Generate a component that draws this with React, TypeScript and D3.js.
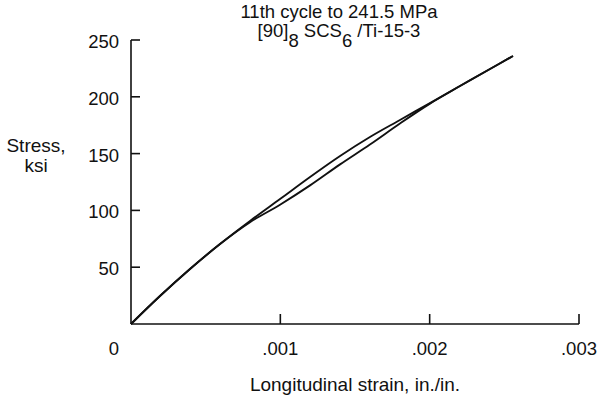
import React from "react";
import * as d3 from "d3";

const xTicks = [0.001, 0.002, 0.003];
const xTickLabels = [".001", ".002", ".003"];
const yTicks = [50, 100, 150, 200, 250];
const yTickLabels = ["50", "100", "150", "200", "250"];

// 11th cycle, two branches (strain in./in., stress ksi)
const strainA = [0, 0.000194, 0.000395, 0.000596, 0.000797, 0.000998, 0.001199, 0.0014, 0.0016, 0.001801, 0.002002, 0.002203, 0.002404, 0.002558];
const stressA = [0, 24.6, 48.4, 70.4, 90.7, 110.0, 129.4, 147.9, 164.6, 179.6, 194.5, 209.5, 224.5, 235.9];
const strainB = [0, 0.000194, 0.000395, 0.000596, 0.000797, 0.000998, 0.001199, 0.0014, 0.0016, 0.001801, 0.002002, 0.002203, 0.002404, 0.002558];
const stressB = [0, 24.6, 48.4, 70.4, 89.6, 105.0, 122.0, 140.5, 158.0, 176.5, 194.0, 209.5, 224.5, 235.9];

const W = 600;
const H = 402;
const FONT = "'Liberation Sans', Arial, Helvetica, sans-serif";

export default function App() {
  const x = d3.scaleLinear().domain([0, 0.003]).range([131, 579]);
  const y = d3.scaleLinear().domain([0, 250]).range([324, 40]);
  const line = d3
    .line<[number, number]>()
    .x((d) => x(d[0]))
    .y((d) => y(d[1]))
    .curve(d3.curveCatmullRom.alpha(0.5));
  const a = strainA.map((s, i) => [s, stressA[i]] as [number, number]);
  const b = strainB.map((s, i) => [s, stressB[i]] as [number, number]);

  return (
    <svg
      width={W}
      height={H}
      style={{ position: "absolute", left: 0, top: 0, background: "#fff" }}
      fontFamily={FONT}
    >
      <rect width={W} height={H} fill="#fff" />
      {/* title */}
      <text x={339} y={18} fontSize={18.5} textAnchor="middle" fill="#111">
        11th cycle to 241.5 MPa
      </text>
      <text x={339} y={37} fontSize={18.5} textAnchor="middle" fill="#111">
        <tspan>[90]</tspan>
        <tspan dy={10}>8</tspan>
        <tspan dy={-10}> SCS</tspan>
        <tspan dy={10}>6</tspan>
        <tspan dy={-10}> /Ti-15-3</tspan>
      </text>

      {/* axes */}
      <g stroke="#111" strokeWidth={1.6} fill="none">
        <line x1={x(0)} x2={x(0)} y1={y(250)} y2={y(0)} />
        <line x1={x(0)} x2={x(0.003)} y1={y(0)} y2={y(0)} />
        {yTicks.map((t) => (
          <line key={"yt" + t} x1={x(0)} x2={x(0) + 9} y1={y(t)} y2={y(t)} />
        ))}
        {xTicks.map((t) => (
          <line key={"xt" + t} x1={x(t)} x2={x(t)} y1={y(0)} y2={y(0) - 10} />
        ))}
      </g>

      {/* tick labels */}
      <g fontSize={18.5} fill="#111">
        {yTicks.map((t, i) => (
          <text key={"yl" + t} x={119} y={y(t) + 8} textAnchor="end">
            {yTickLabels[i]}
          </text>
        ))}
        <text x={119} y={355} textAnchor="end">0</text>
        {xTicks.map((t, i) => (
          <text key={"xl" + t} x={x(t)} y={355} textAnchor="middle">
            {xTickLabels[i]}
          </text>
        ))}
      </g>

      {/* axis titles */}
      <text x={36} y={152} fontSize={19} textAnchor="middle" fill="#111">
        Stress,
      </text>
      <text x={36} y={172} fontSize={19} textAnchor="middle" fill="#111">
        ksi
      </text>
      <text x={355} y={391} fontSize={19} textAnchor="middle" fill="#111">
        Longitudinal strain, in./in.
      </text>

      {/* curves */}
      <path d={line(a) || ""} fill="none" stroke="#111" strokeWidth={1.9} />
      <path d={line(b) || ""} fill="none" stroke="#111" strokeWidth={1.9} />
    </svg>
  );
}
